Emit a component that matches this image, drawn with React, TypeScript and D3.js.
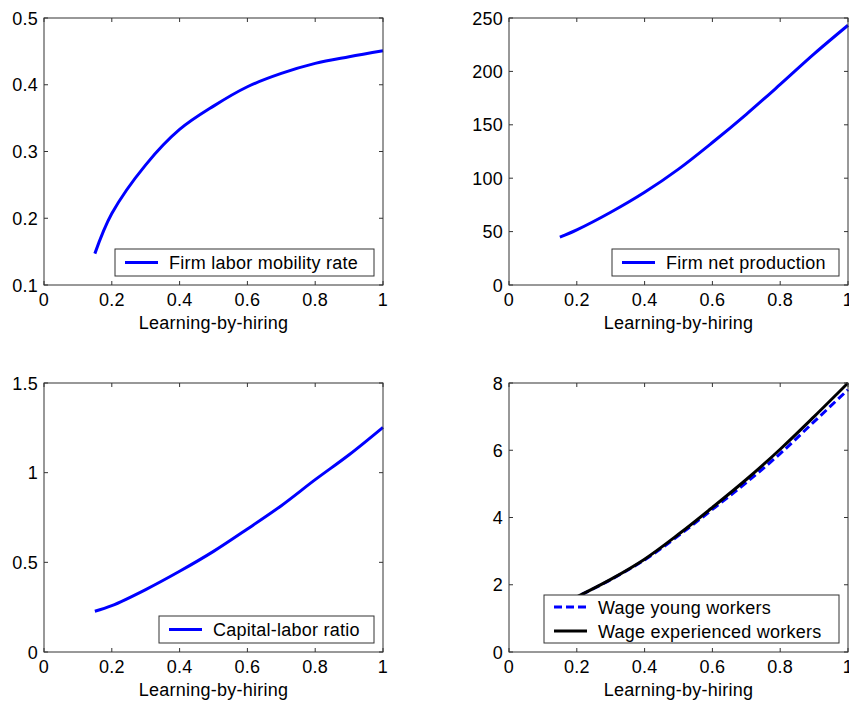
import React from "react";
import * as d3 from "d3";

const lbh = [0.15, 0.2, 0.3, 0.4, 0.5, 0.6, 0.7, 0.8, 0.9, 1.0];
const mobilityRate = [0.147, 0.207, 0.280, 0.333, 0.368, 0.397, 0.417, 0.432, 0.442, 0.451];
const netProduction = [44.8, 51.6, 68.1, 86.8, 108.5, 133.4, 159.8, 187.8, 216.4, 243.2];
const capitalLabor = [0.227, 0.258, 0.348, 0.45, 0.561, 0.686, 0.816, 0.961, 1.10, 1.253];
const wageYoung = [1.4, 1.64, 2.15, 2.74, 3.46, 4.24, 5.04, 5.9, 6.85, 7.8];
const wageExperienced = [1.4, 1.64, 2.16, 2.76, 3.5, 4.3, 5.13, 6.03, 7.0, 8.0];

const xTicks = [0, 0.2, 0.4, 0.6, 0.8, 1];
const xTickLabels = ["0", "0.2", "0.4", "0.6", "0.8", "1"];

const FONT = "Arial, 'Liberation Sans', Helvetica, sans-serif";
const FS = 18;
const LS = 0.25;
const AX = "#333";

type Series = { values: number[]; color: string; dash?: string; label: string };

function Panel(props: {
  left: number; right: number; top: number; bottom: number;
  yDomain: [number, number]; yTicks: number[]; yTickLabels: string[];
  series: Series[];
  legendWidth: number;
}) {
  const { left, right, top, bottom, yDomain, yTicks, yTickLabels, series, legendWidth } = props;
  const x = d3.scaleLinear().domain([0, 1]).range([left, right]);
  const y = d3.scaleLinear().domain(yDomain).range([bottom, top]);
  const line = d3.line<number>()
    .x((_, i) => x(lbh[i]))
    .y((v) => y(v))
    .curve(d3.curveCatmullRom.alpha(0.5));
  const tl = 4;
  const rowH = 24;
  const legH = series.length === 1 ? 27 : 48;
  const legR = right - 9;
  const legB = bottom - 9;
  const legL = legR - legendWidth;
  const legT = legB - legH;
  return (
    <g>
      {series.map((s, i) => (
        <path key={i} d={line(s.values) || ""} fill="none" stroke={s.color}
          strokeWidth={3} strokeDasharray={s.dash} />
      ))}
      <rect x={left} y={top} width={right - left} height={bottom - top} fill="none" stroke={AX} strokeWidth={1} />
      {xTicks.map((t, i) => (
        <g key={"x" + i}>
          <line x1={x(t)} x2={x(t)} y1={bottom} y2={bottom - tl} stroke={AX} />
          <line x1={x(t)} x2={x(t)} y1={top} y2={top + tl} stroke={AX} />
          <text x={x(t)} y={bottom + 21} fill="#000" fontSize={FS} fontFamily={FONT} letterSpacing={LS}
            textAnchor="middle">{xTickLabels[i]}</text>
        </g>
      ))}
      {yTicks.map((t, i) => (
        <g key={"y" + i}>
          <line x1={left} x2={left + tl} y1={y(t)} y2={y(t)} stroke={AX} />
          <line x1={right} x2={right - tl} y1={y(t)} y2={y(t)} stroke={AX} />
          <text x={left - 6} y={y(t) + 6.5} fill="#000" fontSize={FS} fontFamily={FONT} letterSpacing={LS}
            textAnchor="end">{yTickLabels[i]}</text>
        </g>
      ))}
      <text x={(left + right) / 2} y={bottom + 44} fill="#000" fontSize={FS} fontFamily={FONT} letterSpacing={LS}
        textAnchor="middle">Learning-by-hiring</text>
      <rect x={legL} y={legT} width={legendWidth} height={legH} fill="#fff" stroke={AX} strokeWidth={1} />
      {series.map((s, i) => {
        const cy = series.length === 1 ? legT + legH / 2 : legT + 12 + i * rowH;
        return (
          <g key={"l" + i}>
            <line x1={legL + 10} x2={legL + 43} y1={cy} y2={cy} stroke={s.color} strokeWidth={3} strokeDasharray={s.dash} />
            <text x={legL + 54} y={cy + 6.5} fill="#000" fontSize={FS} fontFamily={FONT} letterSpacing={LS}>{s.label}</text>
          </g>
        );
      })}
    </g>
  );
}

export default function App() {
  return (
    <svg width={849} height={704} style={{ position: "absolute", left: 0, top: 0, background: "#fff" }}>
      <rect x={0} y={0} width={849} height={704} fill="#fff" />
      <Panel left={44} right={383} top={18} bottom={285}
        yDomain={[0.1, 0.5]} yTicks={[0.1, 0.2, 0.3, 0.4, 0.5]} yTickLabels={["0.1", "0.2", "0.3", "0.4", "0.5"]}
        series={[{ values: mobilityRate, color: "#0000ff", label: "Firm labor mobility rate" }]}
        legendWidth={259} />
      <Panel left={509} right={848} top={18} bottom={285}
        yDomain={[0, 250]} yTicks={[0, 50, 100, 150, 200, 250]} yTickLabels={["0", "50", "100", "150", "200", "250"]}
        series={[{ values: netProduction, color: "#0000ff", label: "Firm net production" }]}
        legendWidth={227} />
      <Panel left={44} right={383} top={383} bottom={652}
        yDomain={[0, 1.5]} yTicks={[0, 0.5, 1, 1.5]} yTickLabels={["0", "0.5", "1", "1.5"]}
        series={[{ values: capitalLabor, color: "#0000ff", label: "Capital-labor ratio" }]}
        legendWidth={215} />
      <Panel left={509} right={848} top={383} bottom={652}
        yDomain={[0, 8]} yTicks={[0, 2, 4, 6, 8]} yTickLabels={["0", "2", "4", "6", "8"]}
        series={[
          { values: wageYoung, color: "#0000ff", dash: "8,4", label: "Wage young workers" },
          { values: wageExperienced, color: "#000000", label: "Wage experienced workers" },
        ]}
        legendWidth={295} />
    </svg>
  );
}
